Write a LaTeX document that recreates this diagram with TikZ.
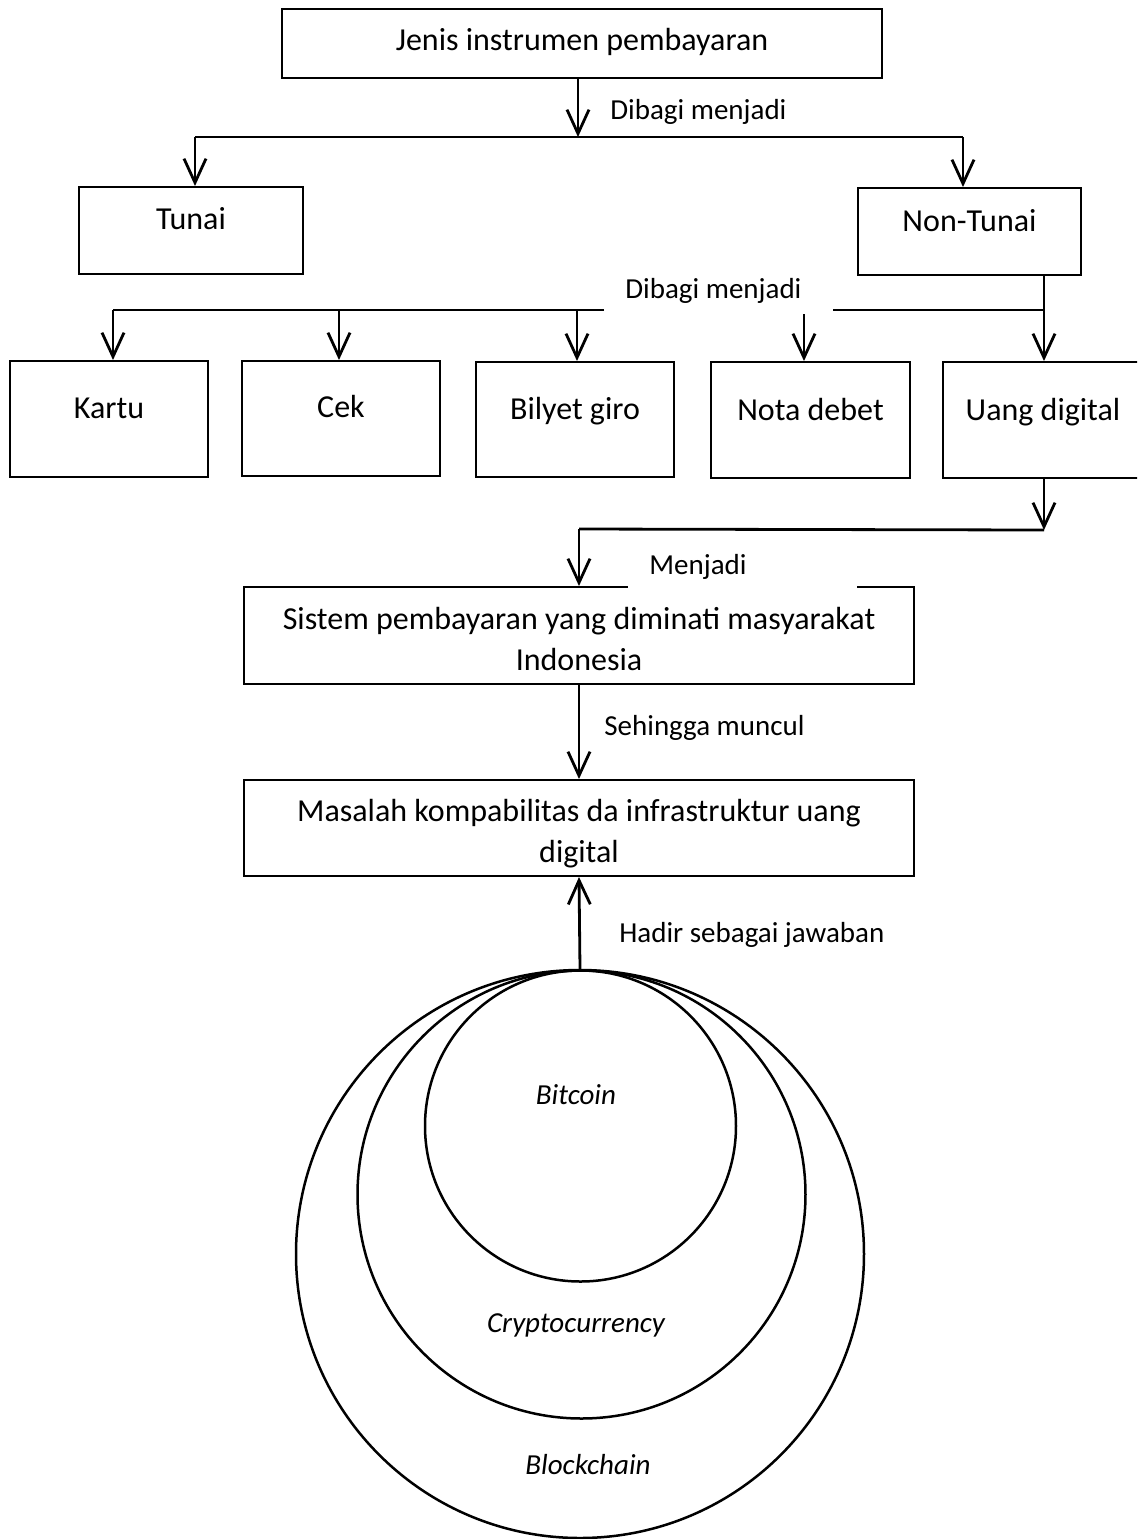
\documentclass[tikz,border=0pt]{standalone}
\usepackage{fontspec}
\setmainfont{Carlito}
\usetikzlibrary{arrows.meta}

\begin{document}
\begin{tikzpicture}[x=0.5pt,y=-0.5pt,
    kotak/.style={draw,line width=1pt,inner sep=0pt,anchor=north,align=center,font=\fontsize{16}{20.5}\selectfont},
    ket/.style={inner sep=0pt,anchor=base west,font=\fontsize{14.5}{17.5}\selectfont},
    panah/.style={line width=1.4pt,-{Straight Barb[length=12pt,width=11pt]}},
    garis/.style={line width=1.4pt},
    lingkaran/.style={draw,circle,line width=1.25pt,inner sep=0pt}]
  \clip (0,0) rectangle (1137,1539);

  % kotak-kotak
  \node[kotak,minimum width=300pt,text height=20.5pt,text depth=14pt] (jenis) at (582,8) {Jenis instrumen pembayaran};
  \node[kotak,minimum width=112pt,text height=21pt,text depth=22.5pt] (tunai) at (191,186) {Tunai};
  \node[kotak,minimum width=111.5pt,text height=21.5pt,text depth=22pt] (nontunai) at (969.5,187) {Non-Tunai};
  \node[kotak,minimum width=99pt,text height=28.5pt,text depth=29.5pt] (kartu) at (109,360) {Kartu};
  \node[kotak,minimum width=99pt,text height=28pt,text depth=29.5pt] (cek) at (341,360) {Cek};
  \node[kotak,minimum width=99pt,text height=28.5pt,text depth=29pt] (bilyet) at (575,361) {Bilyet giro};
  \node[kotak,minimum width=99.5pt,text height=29pt,text depth=29pt] (nota) at (810.5,361) {Nota debet};
  \node[kotak,minimum width=100pt,text height=29pt,text depth=29pt] (uang) at (1043,361) {Uang digital};
  \node[kotak,minimum width=335pt,text height=41.5pt,text depth=7pt] (sistem) at (579,586) {Sistem pembayaran yang diminati masyarakat\\Indonesia};
  \node[kotak,minimum width=335pt,text height=41pt,text depth=7pt] (masalah) at (579,779) {Masalah kompabilitas da infrastruktur uang\\digital};

  % lingkaran
  \node[lingkaran,minimum size=284pt] (blockchain) at (580,1254) {};
  \node[lingkaran,minimum size=224pt] (crypto) at (581.5,1194.5) {};
  \node[lingkaran,minimum size=155.5pt] (bitcoin) at (580.5,1126) {};
  \node[font=\fontsize{14.5}{17.5}\selectfont\itshape] (tbitcoin) at (576,1095) {Bitcoin};
  \node[font=\fontsize{14.5}{17.5}\selectfont\itshape] (tcrypto) at (576,1325) {Cryptocurrency};
  \node[font=\fontsize{14.5}{17.5}\selectfont\itshape] (tblockchain) at (588,1465) {Blockchain};

  % percabangan pertama
  \coordinate (bagi1) at (578,137);
  \coordinate (kiri) at (195,137);
  \coordinate (kanan) at (963,137);
  \draw[panah] (bagi1 |- jenis.south) -- (bagi1) node[ket] at (609,119) (lbagi1) {Dibagi menjadi};
  \draw[garis] (kiri) -- (kanan);
  \draw[panah] (kiri) -- (kiri |- tunai.north);
  \draw[panah] (kanan) -- (kanan |- nontunai.north);

  % percabangan kedua
  \coordinate (bagi2) at (1044,310);
  \coordinate (k1) at (113,310);
  \coordinate (k2) at (339,310);
  \coordinate (k3) at (577,310);
  \coordinate (k4) at (804,314);
  \draw[panah] (bagi2 |- nontunai.south) -- (bagi2 |- uang.north);
  \draw[garis] (bagi2) -- (833,310);
  \draw[garis] (604,310) -- (k1);
  \node[ket] (lbagi2) at (625,298) {Dibagi menjadi};
  \draw[panah] (k1) -- (k1 |- kartu.north);
  \draw[panah] (k2) -- (k2 |- cek.north);
  \draw[panah] (k3) -- (k3 |- bilyet.north);
  \draw[panah] (k4) -- (k4 |- nota.north);

  % ke sistem pembayaran
  \coordinate (belok1) at (1044,530);
  \coordinate (belok2) at (579,529);
  \draw[panah] (belok1 |- uang.south) -- (belok1);
  \draw[garis] (belok1) -- (belok2);
  \draw[panah] (belok2) -- (belok2 |- sistem.north);
  \node[ket,fill=white,inner xsep=10.5pt,text width=93.5pt,align=left,text height=12pt,text depth=7pt] (lmenjadi) at (628,574) {Menjadi};

  \draw[panah] (sistem.south) -- (masalah.north);
  \node[ket] (lmuncul) at (604,735) {Sehingga muncul};
  \draw[panah] (blockchain.north) -- (masalah.south);
  \node[ket] (ljawaban) at (619,942) {Hadir sebagai jawaban};
\end{tikzpicture}
\end{document}
